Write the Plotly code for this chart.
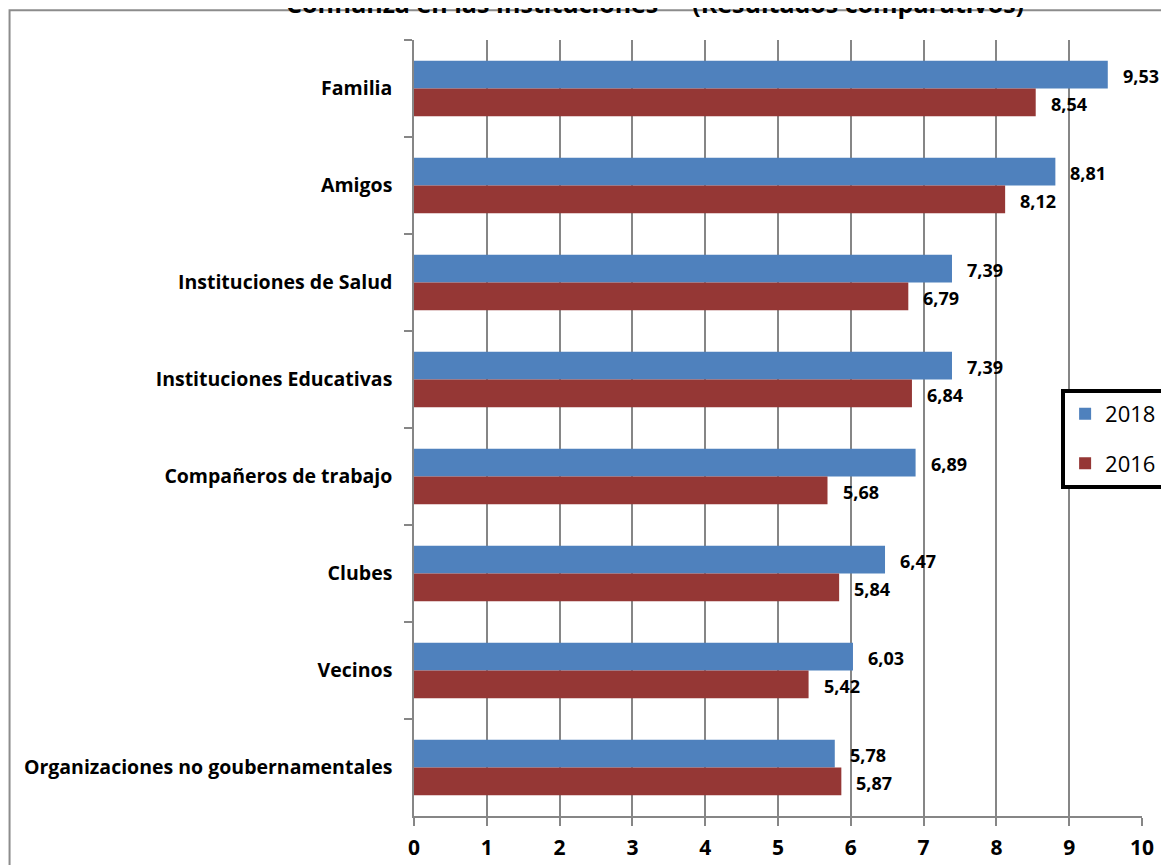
import plotly.graph_objects as go

categories = ["Familia", "Amigos", "Instituciones de Salud", "Instituciones Educativas",
              "Compañeros de trabajo", "Clubes", "Vecinos", "Organizaciones no goubernamentales"]
values_2018 = [9.53, 8.81, 7.39, 7.39, 6.89, 6.47, 6.03, 5.78]
values_2016 = [8.54, 8.12, 6.79, 6.84, 5.68, 5.84, 5.42, 5.87]
x_ticks = list(range(0, 11))
title_text = "Confianza en las Instituciones  -  (Resultados comparativos)"

BLUE = "#4F81BD"
RED = "#953735"
GRID = "#868686"
FONT = "Open Sans"

OFF = 8  # page body margin
W, H = 1169, 865
ML, MR, MT, MB = 414 - OFF, 26 + OFF, 40 - OFF, 42 + OFF
PW, PH = W - ML - MR, H - MT - MB

fig = go.Figure()
fig.add_trace(go.Bar(y=categories, x=values_2018, name="2018", orientation="h", legendgroup="a",
                     marker=dict(color=BLUE, line=dict(width=0))))
fig.add_trace(go.Bar(y=categories, x=values_2016, name="2016", orientation="h", legendgroup="b",
                     marker=dict(color=RED, line=dict(width=0))))

def fmt(v):
    return f"{v:.2f}".replace(".", ",")

for c, v in zip(categories, values_2018):
    fig.add_annotation(x=v, y=c, xref="x", yref="y", text=fmt(v), showarrow=False,
                       xanchor="left", yanchor="middle", xshift=13, yshift=13,
                       font=dict(family=FONT, size=18, color="black", weight="bold"))
for c, v in zip(categories, values_2016):
    fig.add_annotation(x=v, y=c, xref="x", yref="y", text=fmt(v), showarrow=False,
                       xanchor="left", yanchor="middle", xshift=13, yshift=-15,
                       font=dict(family=FONT, size=18, color="black", weight="bold"))

# window pixel -> paper coords
def px_x(p):
    return (p - OFF - ML) / PW

def px_y(p):
    return (H - MB - (p - OFF)) / PH

fig.add_shape(type="rect", xref="paper", yref="paper",
              x0=px_x(9), x1=px_x(1250), y0=px_y(950), y1=px_y(10),
              line=dict(color="#8C8C8C", width=2), fillcolor="rgba(0,0,0,0)", layer="below")

fig.add_annotation(text=title_text, xref="paper", yref="paper", x=px_x(655), y=px_y(22),
                   xanchor="center", yanchor="bottom", showarrow=False,
                   font=dict(family=FONT, size=25, color="black", weight="bold"))

fig.update_layout(
    width=W, height=H,
    margin=dict(l=ML, r=MR, t=MT, b=MB),
    paper_bgcolor="white", plot_bgcolor="white",
    barmode="group", bargap=0.43, bargroupgap=0,
    font=dict(family=FONT, color="black"),
    legend=dict(x=px_x(1062), y=px_y(392), xanchor="left", yanchor="top",
                traceorder="grouped", tracegroupgap=18,
                bgcolor="white", bordercolor="black", borderwidth=4,
                font=dict(family=FONT, size=22, color="black"),
                itemwidth=30),
    xaxis=dict(range=[0, 10], tickvals=x_ticks, showgrid=True, gridcolor=GRID, gridwidth=1.5,
               showline=True, linecolor=GRID, linewidth=1.5, ticks="outside", ticklen=8,
               tickcolor=GRID, tickwidth=1.5, zeroline=False, ticklabelstandoff=4,
               tickfont=dict(family="Liberation Sans Narrow, Open Sans", size=21, color="black",
                             weight="bold")),
    yaxis=dict(autorange="reversed", showline=True, linecolor=GRID, linewidth=1.5,
               ticks="outside", ticklen=8, tickcolor=GRID, tickwidth=1.5, tickson="boundaries",
               ticklabelstandoff=16, showgrid=False,
               tickfont=dict(family=FONT, size=19.5, color="black", weight="bold")),
)

fig.write_html("out.html")
